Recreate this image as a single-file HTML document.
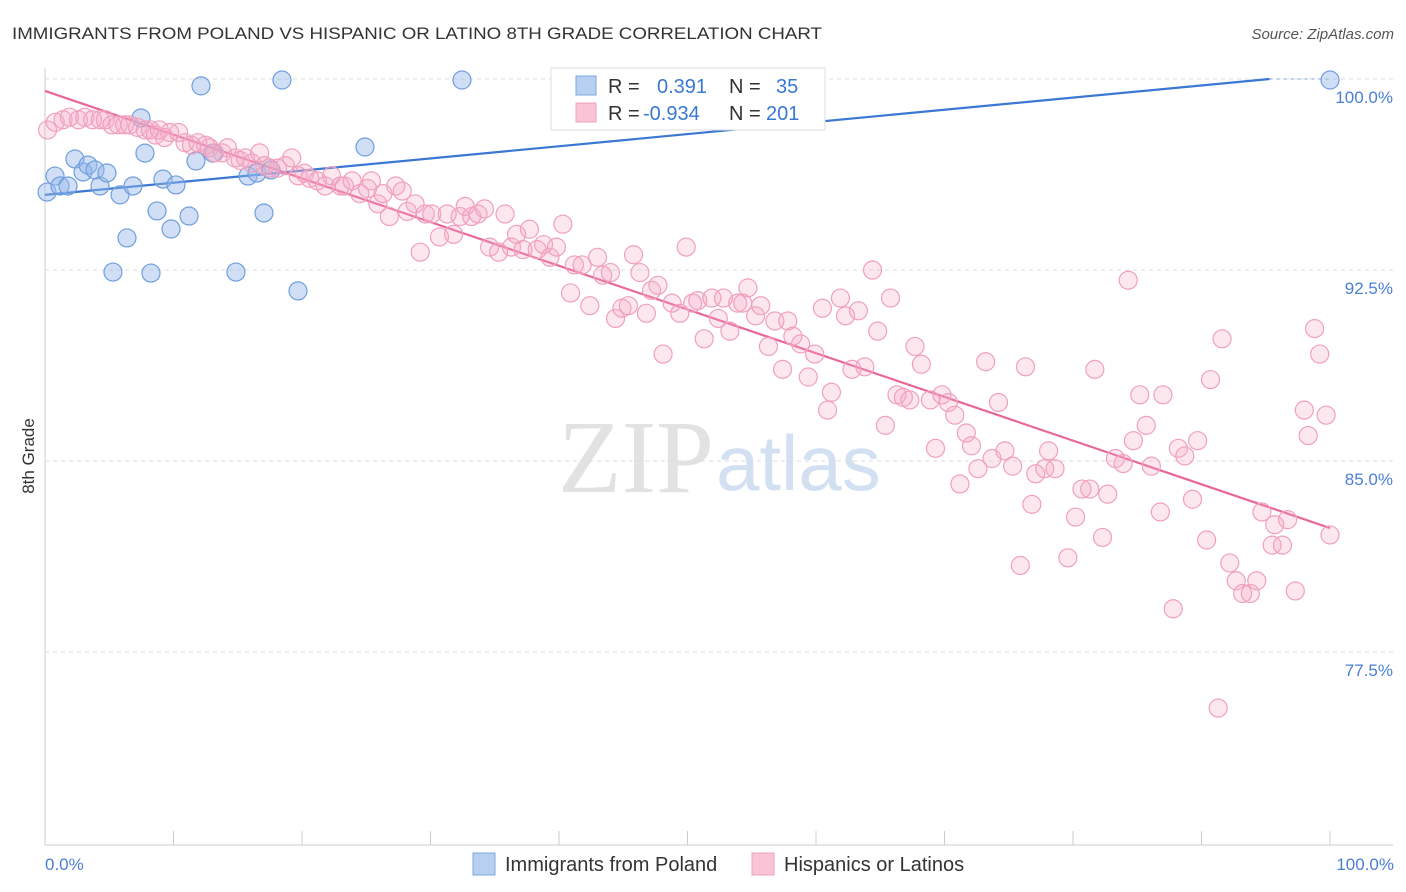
<!DOCTYPE html>
<html><head><meta charset="utf-8"><style>
body{margin:0;background:#fff;font-family:"Liberation Sans",sans-serif}
svg{display:block}
</style></head><body>
<svg id="chart" width="1406" height="892">
<text x="12" y="39" font-size="17" fill="#333" textLength="810" lengthAdjust="spacingAndGlyphs">IMMIGRANTS FROM POLAND VS HISPANIC OR LATINO 8TH GRADE CORRELATION CHART</text>
<text x="1394" y="39" font-size="15" fill="#555" font-style="italic" text-anchor="end">Source: ZipAtlas.com</text>
<text x="714" y="492" font-size="104" fill="#e2e2e2" text-anchor="end" font-family="Liberation Serif,serif">ZIP</text>
<text x="716" y="490" font-size="78" fill="#d3e0f2">atlas</text>
<g id="grid"></g><g id="axes"></g><g id="lines"></g><g id="pts"></g>
<text transform="translate(34,456) rotate(-90)" font-size="17" fill="#333" text-anchor="middle">8th Grade</text>
<text x="45" y="870" font-size="17" fill="#4a7fd4">0.0%</text>
<text x="1394" y="870" font-size="17" fill="#4a7fd4" text-anchor="end">100.0%</text>
<g>
<rect x="551" y="68" width="274" height="62" fill="#fff" stroke="#ddd"/>
<rect x="576" y="76" width="20" height="19" fill="#b8d0f0" stroke="#7aa8e0"/>
<rect x="576" y="103" width="20" height="19" fill="#f8c4d6" stroke="#f0a0bc"/>
<text x="608" y="93" font-size="20" fill="#333">R = <tspan fill="#3a78d4" x="657">0.391</tspan><tspan fill="#333" x="729">N =</tspan><tspan fill="#3a78d4" x="776">35</tspan></text>
<text x="608" y="120" font-size="20" fill="#333">R = <tspan fill="#3a78d4" x="643">-0.934</tspan><tspan fill="#333" x="729">N =</tspan><tspan fill="#3a78d4" x="766">201</tspan></text>
</g>
<g>
<rect x="473" y="853" width="22" height="22" fill="#b8d0f0" stroke="#7aa8e0"/>
<text x="505" y="871" font-size="20" fill="#333">Immigrants from Poland</text>
<rect x="752" y="853" width="22" height="22" fill="#f8c4d6" stroke="#f0a0bc"/>
<text x="784" y="871" font-size="20" fill="#333">Hispanics or Latinos</text>
</g>
</svg>
<script>
const yTicks=[100,92.5,85,77.5];
const yTickLabels=["100.0%","92.5%","85.0%","77.5%"];
const xTicks=[0,10,20,30,40,50,60,70,80,90,100];
const blueX=[0.16,0.78,1.17,1.79,2.33,2.96,3.35,3.89,4.28,4.82,5.29,5.84,6.38,6.85,7.47,7.78,8.25,8.72,9.18,9.81,10.19,11.21,11.75,12.14,13.07,14.86,15.8,16.5,17.04,17.59,18.44,19.69,24.9,32.45,100];
const blueY=[95.56,96.19,95.8,95.8,96.86,96.35,96.62,96.43,95.8,96.31,92.42,95.45,93.76,95.8,98.47,97.09,92.38,94.82,96.07,94.11,95.84,94.62,96.78,99.73,97.09,92.42,96.19,96.31,94.74,96.43,99.96,91.68,97.33,99.96,99.96];
const pinkX=[0.2,0.8,1.4,1.9,2.6,3.1,3.7,4.3,4.7,5.2,5.7,6.2,6.6,7.2,7.8,8.2,8.6,8.9,9.3,9.7,10.4,10.9,11.4,11.9,12.5,12.8,13.2,13.8,14.2,14.8,15.2,15.6,16.1,16.7,17.1,17.5,18.1,18.7,19.2,19.7,20.2,20.6,21.2,21.8,22.3,23.0,23.3,23.9,24.5,25.1,25.4,25.9,26.3,26.8,27.3,27.8,28.2,28.8,29.2,29.6,30.1,30.7,31.3,31.8,32.3,32.7,33.2,33.7,34.2,34.6,35.3,35.8,36.3,36.7,37.2,37.7,38.3,38.8,39.3,39.8,40.3,40.9,41.2,41.8,42.4,43.0,43.4,44.0,44.4,44.9,45.4,45.8,46.3,46.8,47.2,47.7,48.1,48.8,49.4,49.9,50.4,50.8,51.3,51.9,52.4,52.8,53.3,53.9,54.3,54.7,55.3,55.7,56.3,56.8,57.4,57.8,58.2,58.8,59.4,59.9,60.5,60.9,61.2,61.9,62.3,62.8,63.3,63.8,64.4,64.8,65.4,65.8,66.3,66.8,67.3,67.7,68.2,68.9,69.3,69.8,70.3,70.8,71.2,71.7,72.1,72.6,73.2,73.7,74.2,74.7,75.3,75.9,76.3,76.8,77.1,77.8,78.1,78.6,79.6,80.2,80.7,81.3,81.7,82.3,82.7,83.3,83.9,84.3,84.7,85.2,85.7,86.1,86.8,87.0,87.8,88.2,88.7,89.3,89.7,90.4,90.7,91.3,91.6,92.2,92.7,93.2,93.8,94.3,94.7,95.5,95.7,96.3,96.7,97.3,98.0,98.3,98.8,99.2,99.7,100.0];
const pinkY=[98.0,98.3,98.4,98.5,98.4,98.5,98.4,98.4,98.4,98.2,98.2,98.2,98.2,98.1,98.0,98.0,97.8,98.0,97.7,97.9,97.9,97.5,97.4,97.5,97.4,97.3,97.1,97.1,97.3,96.9,96.8,96.9,96.7,97.1,96.6,96.5,96.5,96.6,96.9,96.2,96.3,96.1,96.0,95.8,96.2,95.8,95.8,96.0,95.5,95.7,96.0,95.1,95.5,94.6,95.8,95.6,94.8,95.1,93.2,94.7,94.7,93.8,94.7,93.9,94.6,95.0,94.6,94.7,94.9,93.4,93.2,94.7,93.4,93.9,93.3,94.1,93.3,93.5,93.0,93.4,94.3,91.6,92.7,92.7,91.1,93.0,92.3,92.4,90.6,91.0,91.1,93.1,92.4,90.8,91.7,91.9,89.2,91.2,90.8,93.4,91.2,91.3,89.8,91.4,90.6,91.4,90.1,91.2,91.2,91.8,90.7,91.1,89.5,90.5,88.6,90.5,89.9,89.6,88.3,89.2,91.0,87.0,87.7,91.4,90.7,88.6,90.9,88.7,92.5,90.1,86.4,91.4,87.6,87.5,87.4,89.5,88.8,87.4,85.5,87.6,87.3,86.8,84.1,86.1,85.6,84.7,88.9,85.1,87.3,85.4,84.8,80.9,88.7,83.3,84.5,84.7,85.4,84.7,81.2,82.8,83.9,83.9,88.6,82.0,83.7,85.1,84.9,92.1,85.8,87.6,86.4,84.8,83.0,87.6,79.2,85.5,85.2,83.5,85.8,81.9,88.2,75.3,89.8,81.0,80.3,79.8,79.8,80.3,83.0,81.7,82.5,81.7,82.7,79.9,87.0,86.0,90.2,89.2,86.8,82.1];
const blueFit=[95.45,100.0,95.3];
const pinkFit=[99.53,82.37];
const NS="http://www.w3.org/2000/svg";
const X=v=>45+v*12.85;
const Y=v=>79+(100-v)*25.47;
function mk(tag,attrs,parent){const e=document.createElementNS(NS,tag);for(const k in attrs)e.setAttribute(k,attrs[k]);document.getElementById(parent).appendChild(e);return e;}
yTicks.forEach((t,i)=>{
 const g=mk('line',{x1:45,x2:1393,y1:Y(t),y2:Y(t),stroke:'#ddd','stroke-dasharray':'4,4'},'grid');
 
 
 const l=mk('text',{x:1393,y:Y(t)+24,'font-size':17,fill:'#4a7fd4','text-anchor':'end'},'grid');
 l.textContent=yTickLabels[i];
 
 
});
const ax=mk('line',{x1:45,x2:1393,y1:845,y2:845,stroke:'#ccc'},'axes');


const ay=mk('line',{x1:45,x2:45,y1:68,y2:845,stroke:'#ccc'},'axes');


xTicks.forEach(t=>{
 const e=mk('line',{x1:X(t),x2:X(t),y1:831,y2:845,stroke:'#ccc'},'axes');
 
 
});
blueX.forEach((v,i)=>{
 const c=mk('circle',{cx:X(v),cy:Y(blueY[i]),r:9,fill:'rgba(150,185,235,0.45)',stroke:'#6f9fdc','stroke-width':1.2},'pts');
 
 
});
pinkX.forEach((v,i)=>{
 const c=mk('circle',{cx:X(v),cy:Y(pinkY[i]),r:9,fill:'rgba(246,170,198,0.28)',stroke:'#f0a0bc','stroke-width':1.2},'pts');
 
 
});
const bl=mk('line',{x1:X(0),y1:Y(blueFit[0]),x2:X(blueFit[2]),y2:Y(blueFit[1]),stroke:'#3a78d4','stroke-width':2.2},'lines');


const bl2=mk('line',{x1:X(blueFit[2]),y1:Y(blueFit[1]),x2:X(100),y2:Y(blueFit[1]),stroke:'#a8c4ec','stroke-width':1.5,'stroke-dasharray':'3,4'},'lines');


const pl=mk('line',{x1:X(0),y1:Y(pinkFit[0]),x2:X(100),y2:Y(pinkFit[1]),stroke:'#e8679a','stroke-width':2.2},'lines');


</script>
</body></html>
